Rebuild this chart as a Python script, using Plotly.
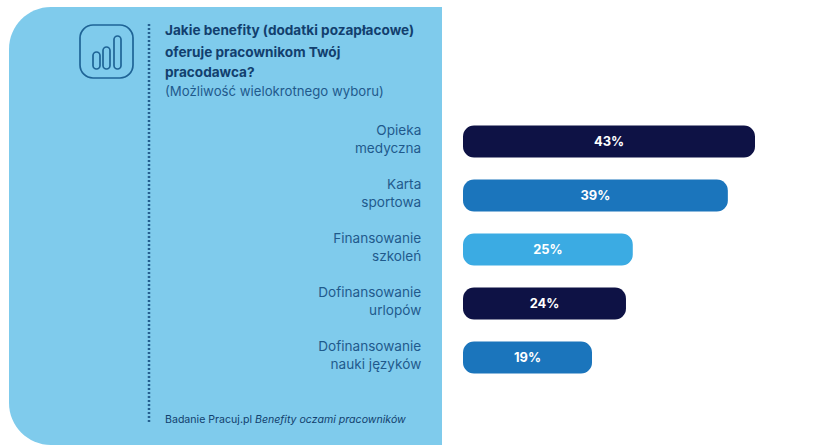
import plotly.graph_objects as go

WIDTH, HEIGHT = 828, 445

# Survey results
categories = [
    "Opieka<br>medyczna",
    "Karta<br>sportowa",
    "Finansowanie<br>szkoleń",
    "Dofinansowanie<br>urlopów",
    "Dofinansowanie<br>nauki języków",
]
values = [43, 39, 25, 24, 19]
bar_starts = [0, 0, 0, 0, 0]
value_labels = ["43%", "39%", "25%", "24%", "19%"]
bar_colors = ["#0E1245", "#1B75BC", "#3BABE3", "#0E1245", "#1B75BC"]

title_lines = [
    "Jakie benefity (dodatki pozapłacowe)",
    "oferuje pracownikom Twój",
    "pracodawca?",
]
subtitle = "(Możliwość wielokrotnego wyboru)"
source_prefix = "Badanie Pracuj.pl "
source_title = "Benefity oczami pracowników"

PANEL = "#7FCBEC"
INK = "#123F6E"
LABEL_INK = "#1F5A8C"
FONT = "Inter"
BAR_RADIUS = 11


def px(x):
    return x / WIDTH


def py(y):
    return 1 - y / HEIGHT


def rounded_path(x0, y0, x1, y1, r_left, r_right=None):
    """Rounded rectangle as an SVG path in paper coordinates, given in pixels."""
    r_right = r_left if r_right is None else r_right
    k = 0.45

    def p(x, y):
        return f"{px(x):.5f},{py(y):.5f}"

    return (
        f"M{p(x0 + r_left, y0)} L{p(x1 - r_right, y0)} "
        f"C{p(x1 - r_right * k, y0)} {p(x1, y0 + r_right * k)} {p(x1, y0 + r_right)} "
        f"L{p(x1, y1 - r_right)} "
        f"C{p(x1, y1 - r_right * k)} {p(x1 - r_right * k, y1)} {p(x1 - r_right, y1)} "
        f"L{p(x0 + r_left, y1)} "
        f"C{p(x0 + r_left * k, y1)} {p(x0, y1 - r_left * k)} {p(x0, y1 - r_left)} "
        f"L{p(x0, y0 + r_left)} "
        f"C{p(x0, y0 + r_left * k)} {p(x0 + r_left * k, y0)} {p(x0 + r_left, y0)} Z"
    )


def outline(path, width=1.7, color="#1F6496"):
    return dict(type="path", xref="paper", yref="paper", path=path,
                line=dict(color=color, width=width), fillcolor="rgba(0,0,0,0)")


shapes = [
    # Side panel behind the category labels
    dict(type="path", xref="paper", yref="paper", layer="below",
         path=rounded_path(9, 7, 442, 445, 42, 0.01),
         fillcolor=PANEL, line=dict(width=0)),
    # Icon frame and its three small columns
    outline(rounded_path(80, 25, 133, 78, 13)),
    outline(rounded_path(93, 52, 100, 69, 3.5)),
    outline(rounded_path(103, 47, 110, 69, 3.5)),
    outline(rounded_path(114, 36, 121, 69, 3.5)),
    # Dotted divider
    dict(type="line", xref="paper", yref="paper",
         x0=px(149), x1=px(149), y0=py(24), y1=py(423),
         line=dict(color="#245F8F", width=2.5, dash="2px,2px")),
]


def text_line(text, y, size, color=INK):
    return dict(xref="paper", yref="paper", x=px(164), y=py(y), xanchor="left",
                yanchor="middle", showarrow=False, text=text, align="left",
                borderpad=0, font=dict(family=FONT, size=size, color=color))


annotations = [text_line(f"<b>{line}</b>", y, 13.6)
               for line, y in zip(title_lines, [30, 52, 72])]
annotations.append(text_line(subtitle, 91, 13.2, LABEL_INK))
annotations.append(text_line(f"{source_prefix}<i>{source_title}</i>", 419, 10.6))

# An explicit base makes plotly round both ends of each bar
fig = go.Figure(
    go.Bar(
        x=values,
        base=bar_starts,
        y=categories,
        orientation="h",
        text=value_labels,
        textposition="inside",
        insidetextanchor="middle",
        textangle=0,
        textfont=dict(family=FONT, size=12.9, color="white", weight="bold"),
        marker=dict(color=bar_colors, cornerradius=BAR_RADIUS, line=dict(width=0)),
        hoverinfo="skip",
    )
)

fig.update_layout(
    width=WIDTH,
    height=HEIGHT,
    margin=dict(l=0, r=0, t=0, b=0),
    paper_bgcolor="white",
    plot_bgcolor="rgba(0,0,0,0)",
    showlegend=False,
    bargap=0.41,
    shapes=shapes,
    annotations=annotations,
    xaxis=dict(domain=[px(463), 1], range=[0, 53.75], visible=False, fixedrange=True),
    yaxis=dict(
        domain=[py(384.5), py(114.5)],
        autorange="reversed",
        showgrid=False,
        showline=False,
        zeroline=False,
        ticks="outside",
        ticklen=38,
        tickcolor="rgba(0,0,0,0)",
        ticklabelshift=2,
        tickfont=dict(family=FONT, size=13.6, color=LABEL_INK),
        fixedrange=True,
    ),
)

fig.write_html("out.html", config={"displayModeBar": False})
